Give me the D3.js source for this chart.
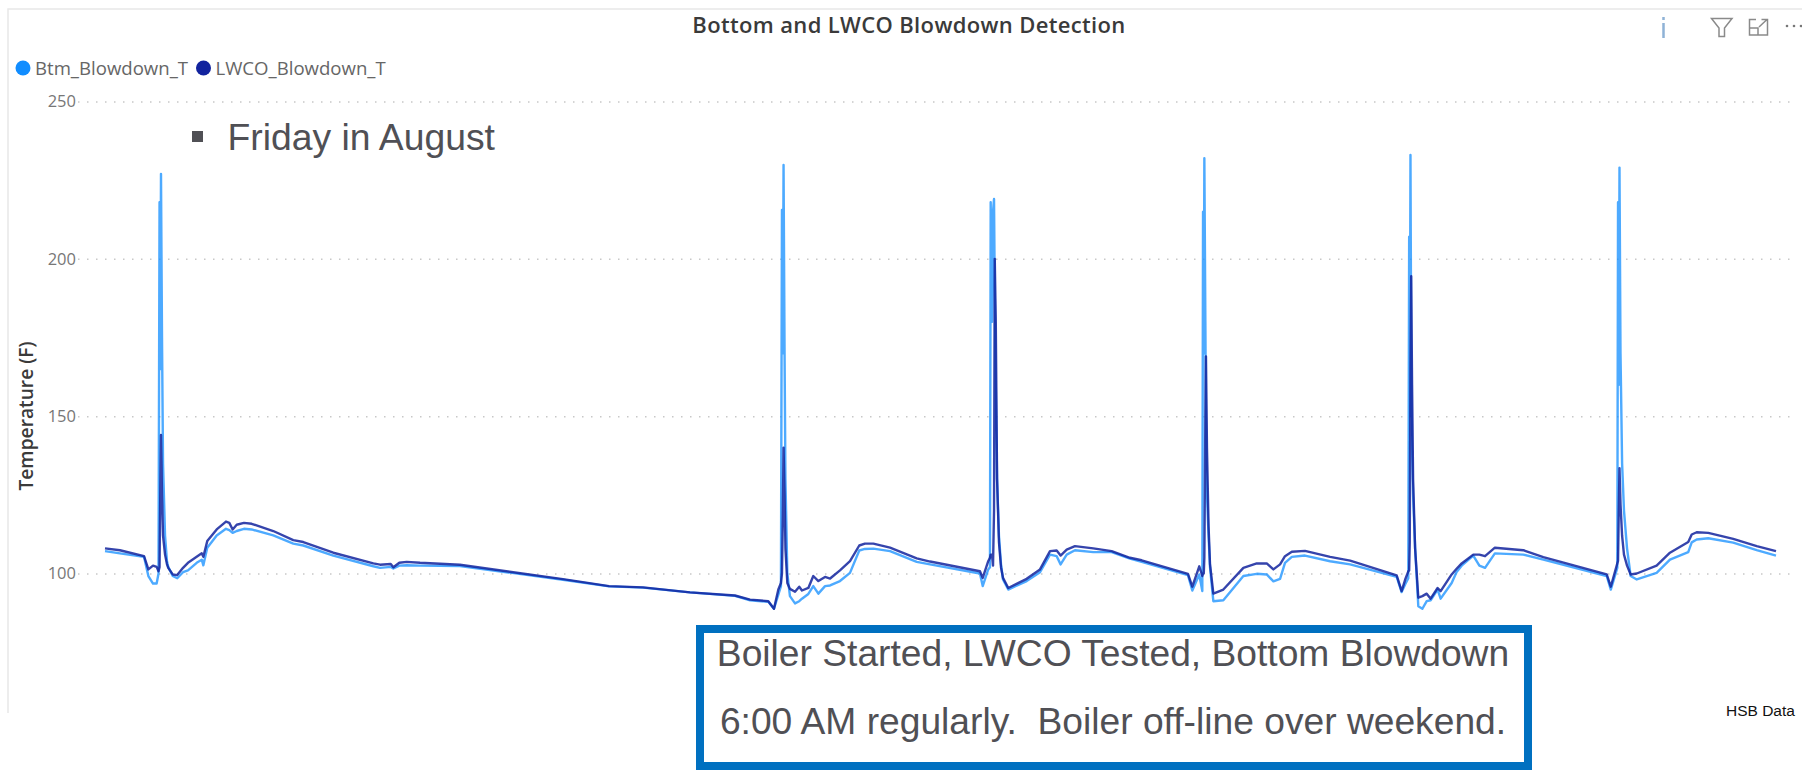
<!DOCTYPE html>
<html>
<head>
<meta charset="utf-8">
<script src="https://cdn.jsdelivr.net/npm/d3@7"></script>
<style>
  html, body { margin: 0; padding: 0; background: #fff; overflow: hidden; }
  svg { display: block; }
</style>
</head>
<body>
<div id="container"></div>
<script>
/* DATA */
// minutes since the start of the plot, shared by both series
const minutes = [
  0, 103, 269, 299, 331, 356, 369, 376, 381, 386, 393, 400, 414, 427, 436,
  467, 498, 538, 572, 632, 667, 678, 705, 770, 834, 857, 880, 908, 958, 1011,
  1160, 1298, 1367, 1574, 1850, 1896, 1970, 1988, 2029, 2080, 2172, 2447, 3157, 3475, 3709,
  4033, 4343, 4447, 4573, 4612, 4642, 4660, 4667, 4673, 4678, 4685, 4691, 4704, 4722, 4757,
  4786, 4805, 4849, 4883, 4918, 4964, 4999, 5067, 5136, 5200, 5239, 5297, 5412, 5596, 5688,
  6032, 6051, 6089, 6101, 6106, 6115, 6122, 6129, 6134, 6141, 6150, 6163, 6177, 6191, 6227,
  6354, 6446, 6515, 6561, 6588, 6630, 6687, 6813, 6940, 7066, 7147, 7466, 7496, 7544, 7565,
  7570, 7575, 7579, 7586, 7590, 7597, 7608, 7618, 7641, 7710, 7848, 7940, 8009, 8055, 8101,
  8135, 8182, 8273, 8446, 8584, 8905, 8939, 8963, 8985, 8991, 8995, 9000, 9005, 9011, 9018,
  9032, 9054, 9082, 9112, 9139, 9187, 9208, 9284, 9318, 9353, 9433, 9475, 9514, 9582, 9778,
  9916, 10353, 10381, 10426, 10431, 10436, 10441, 10448, 10459, 10472, 10493, 10518, 10560, 10697, 10789,
  10915, 10939, 10973, 11053, 11225, 11387, 11520
];
const btmBlowdown = [
  107.1, 106.4, 105.3, 99.2, 96.8, 96.8, 100, 218, 165, 227, 175, 135, 112, 104, 102.1,
  99.2, 98.5, 100.4, 101, 103.4, 104.4, 102.6, 108.2, 112.1, 114.2, 113.8, 112.9, 113.5, 114.2, 114,
  112.1, 109.5, 108.9, 105.7, 102.3, 101.8, 102.1, 101.6, 102.5, 102.6, 102.5, 102.4, 98, 95.9, 95.5,
  94, 92.9, 91.5, 91, 88.8, 93.3, 96, 215.5, 170, 229.8, 170, 130, 100, 92.8, 90.5,
  91.2, 92, 93.5, 96, 93.6, 96, 96.2, 97.6, 100.2, 107.3, 107.8, 107.9, 107.1, 103.7, 102.9,
  100, 96, 101.3, 102, 218, 180, 215, 219, 190, 160, 130, 112, 103, 98.1, 94.9,
  97.6, 100.4, 106, 105.5, 102.9, 106, 107.4, 106.8, 106.8, 104.7, 103.7, 99.5, 94.6, 99.7, 94.4,
  215, 170, 232, 180, 150, 125, 112, 102, 91.2, 91.5, 99.2, 99.9, 99.7, 97.5, 98.3,
  103.4, 105.3, 105.7, 103.9, 102.9, 98.9, 94.1, 96.5, 98.5, 207, 150, 233, 170, 140, 125,
  108, 89.6, 88.8, 91.2, 91.5, 94.9, 92, 97, 100.5, 102.5, 105.7, 102.5, 101.8, 106.4, 106,
  104.4, 99.2, 94.9, 101.8, 218, 160, 229, 170, 135, 120, 108, 99.2, 98.1, 100.2, 104.4,
  106.8, 109.9, 110.8, 111.2, 109.8, 107.4, 105.7
];
const lwcoBlowdown = [
  108, 107.4, 105.5, 101.3, 102.5, 102.1, 100.7, 102, 125, 144, 125, 112, 106, 103, 101.8,
  99.7, 99.5, 101.8, 103.4, 105.3, 106.4, 105.3, 110.3, 114, 116.5, 116.1, 114, 115.5, 116.1, 115.8,
  113.5, 110.6, 110, 106.6, 103.2, 102.8, 103, 102, 103.4, 103.7, 103.4, 102.8, 98.2, 96, 95.6,
  94, 93, 91.7, 91.2, 88.8, 94.9, 97, 100, 118, 140, 125, 108, 97, 95.1, 94.2,
  95.8, 94.6, 95.4, 99.2, 97.6, 98.9, 98.4, 101, 103.9, 108.9, 109.5, 109.5, 108.2, 104.8, 103.8,
  100.7, 98.6, 103.9, 105, 106, 106, 102.5, 120, 200, 180, 130, 110, 102, 98.6, 95.4,
  98.3, 101.3, 107.1, 107.3, 105.7, 107.6, 108.7, 108, 107.1, 105, 104.2, 99.9, 95.8, 102.3, 99.2,
  100, 100, 105, 150, 169, 140, 115, 103, 93.6, 94.9, 101.8, 103.2, 103.2, 101.3, 102.9,
  105.5, 106.9, 107.2, 105.3, 104.1, 99.4, 94.4, 98, 100.7, 101, 110, 165, 194.5, 160, 130,
  108, 92.3, 92.8, 93.6, 92, 95.4, 94.4, 99.7, 101.5, 103.2, 106, 106, 105.5, 108.2, 107.4,
  105.2, 99.7, 95.8, 103.2, 104, 120, 133.5, 122, 112, 106, 102.5, 99.7, 100, 102.5, 106.6,
  110, 112.4, 113.1, 112.9, 111, 108.7, 107.1
];
const seriesNames = ["Btm_Blowdown_T", "LWCO_Blowdown_T"];
const seriesColors = ["#118DFF", "#12239E"];
const yTicks = [100, 150, 200, 250];
const boxLines = ["Boiler Started, LWCO Tested, Bottom Blowdown", "6:00 AM regularly.  Boiler off-line over weekend."];

/* CONSTANTS */
const width = 1802, height = 770;
const uiFont = "'Open Sans', 'Noto Sans', sans-serif";
const slideFont = "'Liberation Sans', Arial, sans-serif";

const svg = d3.select("#container")
  .append("svg")
  .attr("width", width)
  .attr("height", height);

// visual frame, top and left only
svg.append("path")
  .attr("d", "M8,713V9H1802")
  .attr("fill", "none")
  .attr("stroke", "#e8e8e8")
  .attr("stroke-width", 1.5);

// SCALES
const xScale = d3.scaleLinear().domain([0, 11520]).range([105, 1776]);
const yScale = d3.scaleLinear().domain([100, 250]).range([573.5, 101.5]);

// AXIS with dotted grid
const yAxis = d3.axisLeft(yScale)
  .tickValues(yTicks)
  .tickSize(-1714)
  .tickPadding(2);

const yAxisGroup = svg.append("g")
  .attr("transform", "translate(78,0)")
  .call(yAxis);
yAxisGroup.select(".domain").remove();
yAxisGroup.selectAll("line")
  .attr("stroke", "#c8c8c8")
  .attr("stroke-width", 1.5)
  .attr("stroke-dasharray", "1.5 7.5");
yAxisGroup.selectAll("text")
  .attr("font-family", uiFont)
  .attr("font-size", 16.5)
  .attr("fill", "#777");

svg.append("text")
  .attr("transform", "translate(33,416) rotate(-90)")
  .attr("text-anchor", "middle")
  .attr("font-family", uiFont)
  .attr("font-weight", 600)
  .attr("font-size", 19.2)
  .attr("fill", "#3a3a3a")
  .text("Temperature (F)");

// LINES
const line = values => d3.line()
  .x((d, i) => xScale(minutes[i]))
  .y(d => yScale(d))(values);

[btmBlowdown, lwcoBlowdown].forEach((values, i) => {
  svg.append("path")
    .attr("d", line(values))
    .attr("fill", "none")
    .attr("stroke", seriesColors[i])
    .attr("stroke-opacity", i ? 0.85 : 0.75)
    .attr("stroke-width", 2.4)
    .attr("stroke-linejoin", "round");
});

// TITLE
svg.append("text")
  .attr("x", 909)
  .attr("y", 32.5)
  .attr("text-anchor", "middle")
  .attr("font-family", uiFont)
  .attr("font-weight", 600)
  .attr("font-size", 22)
  .attr("letter-spacing", 0.35)
  .attr("fill", "#3a3a3a")
  .text("Bottom and LWCO Blowdown Detection");

// LEGEND
const legendX = [23, 203.5];
seriesNames.forEach((name, i) => {
  svg.append("circle")
    .attr("cx", legendX[i])
    .attr("cy", 68)
    .attr("r", 7.5)
    .attr("fill", seriesColors[i]);
  svg.append("text")
    .attr("x", legendX[i] + 12)
    .attr("y", 74.5)
    .attr("font-family", uiFont)
    .attr("font-size", 18.6)
    .attr("fill", "#666")
    .text(name);
});

// "Friday in August" bullet
svg.append("rect")
  .attr("x", 192)
  .attr("y", 131)
  .attr("width", 11)
  .attr("height", 11)
  .attr("fill", "#505055");
svg.append("text")
  .attr("x", 227.5)
  .attr("y", 150)
  .attr("font-family", slideFont)
  .attr("font-size", 37.3)
  .attr("fill", "#505055")
  .text("Friday in August");

// ANNOTATION BOX
svg.append("rect")
  .attr("x", 700)
  .attr("y", 629)
  .attr("width", 828)
  .attr("height", 137)
  .attr("fill", "#fff")
  .attr("stroke", "#0070C0")
  .attr("stroke-width", 8);
svg.selectAll(".box-line")
  .data(boxLines)
  .join("text")
  .attr("class", "box-line")
  .attr("x", 1113)
  .attr("y", (d, i) => 666 + i * 68)
  .attr("text-anchor", "middle")
  .attr("xml:space", "preserve")
  .style("white-space", "pre")
  .attr("font-family", slideFont)
  .attr("font-size", 37.2)
  .attr("fill", "#505055")
  .text(d => d);

svg.append("text")
  .attr("x", 1726)
  .attr("y", 716)
  .attr("font-family", slideFont)
  .attr("font-size", 15.5)
  .attr("fill", "#111")
  .text("HSB Data");

// HEADER ICONS
const icons = svg.append("g")
  .attr("fill", "none")
  .attr("stroke", "#8a8a8a")
  .attr("stroke-width", 1.5);
icons.append("path")
  .attr("stroke", "#8fb2d6")
  .attr("stroke-width", 2.5)
  .attr("d", "M1663.5,17V20M1663.5,23V38");
icons.append("path")
  .attr("d", "M1711.5,18.5H1732L1724.5,28V36.5H1719V28Z");
icons.append("path")
  .attr("d", "M1756,19.5H1749.5V35H1767.5V24M1749.5,28H1758V35M1759,27L1767,19.5M1761.5,19.5H1767.5V25");
svg.selectAll(".more-dot")
  .data([1787, 1794, 1801])
  .join("circle")
  .attr("class", "more-dot")
  .attr("cx", d => d)
  .attr("cy", 26)
  .attr("r", 1.3)
  .attr("fill", "#777");
</script>
</body>
</html>
